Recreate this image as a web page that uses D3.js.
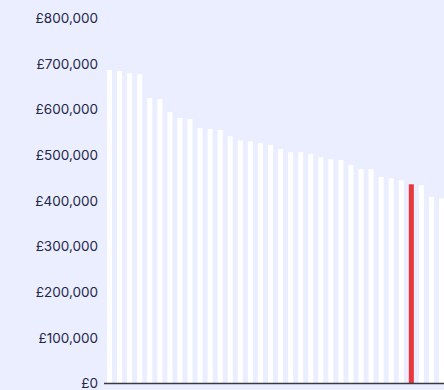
<!DOCTYPE html>
<html>
<head>
<meta charset="utf-8">
<script src="https://cdn.jsdelivr.net/npm/d3@7"></script>
<style>
  html, body { margin: 0; padding: 0; background: #EBEEFF; overflow: hidden; }
  svg { display: block; }
</style>
</head>
<body>
<div id="chart"></div>
<script>
// Average house prices by area, sorted high to low; one highlighted area
const areas = [
  "A01","A02","A03","A04","A05","A06","A07","A08","A09","A10",
  "A11","A12","A13","A14","A15","A16","A17","A18","A19","A20",
  "A21","A22","A23","A24","A25","A26","A27","A28","A29","A30",
  "A31","A32","A33","A34"
];
const prices = [
  686000, 684000, 679000, 677000, 625000, 622000, 594000, 581000, 579000, 559000,
  557000, 555000, 541000, 532000, 530000, 526000, 522000, 513000, 506000, 506000,
  502000, 495000, 491000, 489000, 478000, 469000, 469000, 452000, 449000, 445000,
  436000, 434000, 408000, 405000
];
const highlighted = "A31";
const tickValues = [0, 100000, 200000, 300000, 400000, 500000, 600000, 700000, 800000];

const width = 444, height = 390;
const baseY = 383.5, topY = 18;

const svg = d3.select("#chart").append("svg")
  .attr("width", width).attr("height", height);

const x = d3.scaleBand()
  .domain(areas)
  .range([104.5, 104.5 + 10.06 * areas.length])
  .paddingInner(0.5)
  .paddingOuter(0.25);

const y = d3.scaleLinear().domain([0, 800000]).range([baseY, topY]);

const fmt = v => "£" + d3.format(",")(v);

// y-axis labels only
const yAxis = d3.axisLeft(y).tickValues(tickValues).tickFormat(fmt).tickSize(0).tickPadding(0);
const gy = svg.append("g").attr("transform", "translate(98,0)").call(yAxis);
gy.select(".domain").remove();
gy.selectAll("text")
  .attr("fill", "#23264A")
  .style("font-family", "Inter, 'Noto Sans', sans-serif")
  .style("font-size", "13.5px");

// bars
svg.append("g").selectAll("rect")
  .data(areas.map((a, i) => ({ area: a, price: prices[i] })))
  .join("rect")
  .attr("x", d => x(d.area))
  .attr("width", x.bandwidth())
  .attr("y", d => y(d.price))
  .attr("height", d => baseY - y(d.price))
  .attr("fill", d => d.area === highlighted ? "#E8373D" : "#FFFFFF");

// baseline
svg.append("line")
  .attr("x1", 104).attr("x2", width)
  .attr("y1", baseY).attr("y2", baseY)
  .attr("stroke", "#3A3A45")
  .attr("stroke-width", 1.5);
</script>
</body>
</html>
